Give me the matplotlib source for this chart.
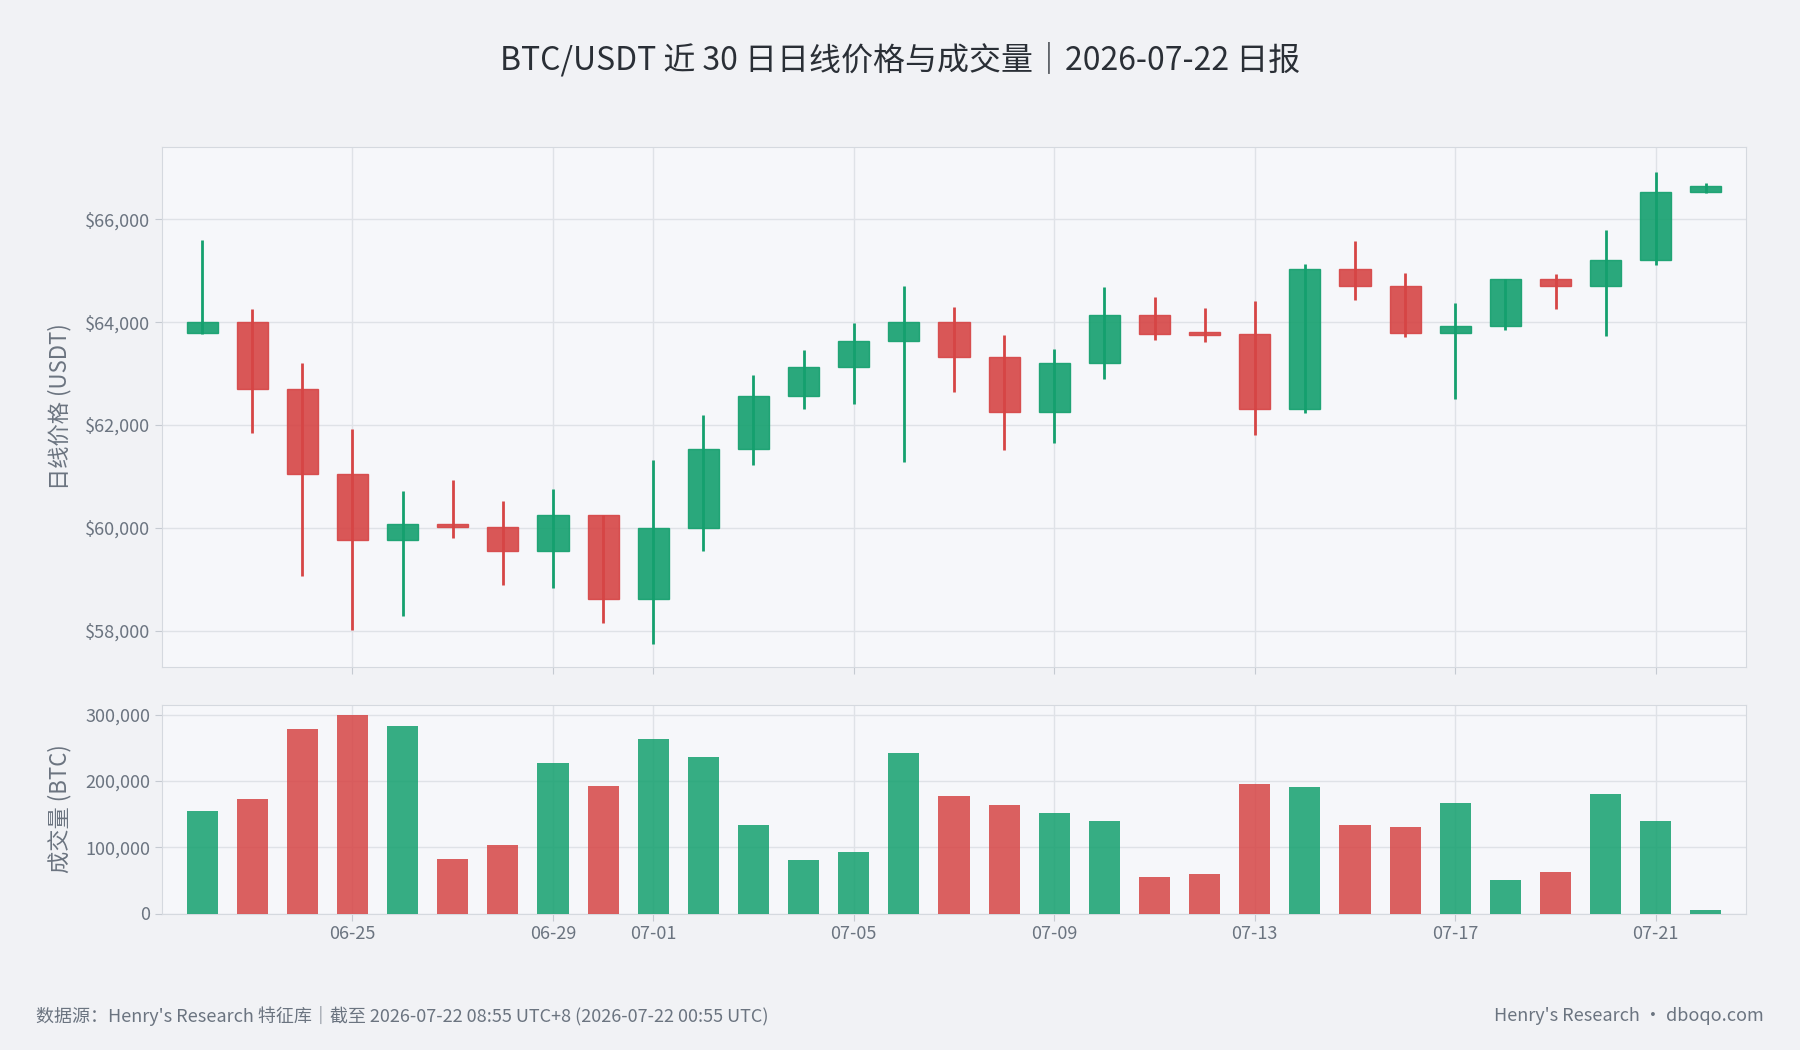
import matplotlib
matplotlib.use("Agg")
import matplotlib.pyplot as plt
import matplotlib.dates as mdates
import matplotlib.ticker as mt
import pandas as pd
import numpy as np

plt.rcParams['font.family'] = ['Noto Sans CJK SC', 'DejaVu Sans']

dates = pd.date_range("2026-06-22", "2026-07-22", freq="D")
opens  = [63780,64000,62700,61050,59770,60080,60010,59550,60240,58620,59990,61540,62560,63120,63630,64000,63320,62250,63210,64140,63800,63760,62300,65020,64690,63780,63920,64830,64700,65200,66530]
closes = [64000,62700,61050,59770,60080,60010,59550,60240,58620,59990,61540,62560,63120,63630,64000,63320,62250,63210,64140,63760,63740,62300,65020,64690,63780,63920,64830,64700,65200,66530,66640]
highs  = [65600,64250,63200,61920,60720,60920,60520,60750,60240,61320,62190,62960,63450,63980,64700,64290,63740,63470,64670,64490,64270,64400,65130,65580,64960,64360,64830,64940,65780,66910,66710]
lows   = [63760,61850,59060,58020,58280,59810,58880,58840,58150,57750,59550,61230,62300,62410,61280,62630,61520,61650,62900,63650,63610,61810,62230,64430,63700,62500,63850,64250,63720,65110,66510]
volumes = [155000,173000,278000,300000,282000,82000,104000,227000,192000,263000,236000,133000,80000,93000,242000,177000,163000,151000,139000,55000,60000,195000,190000,133000,130000,166000,50000,63000,180000,139000,5000]
tick_labels = ["06-25","06-29","07-01","07-05","07-09","07-13","07-17","07-21"]

GREEN = "#14a06e"
RED = "#d64545"
BG = "#f1f2f5"
AX = "#f6f7fa"
TXT = "#6b7480"

fig = plt.figure(figsize=(18, 10.5), dpi=100, facecolor=BG)
ax1 = fig.add_axes([0.090, 0.365, 0.880, 0.495], facecolor=AX)
ax2 = fig.add_axes([0.090, 0.130, 0.880, 0.199], facecolor=AX, sharex=ax1)

x = mdates.date2num(dates)
for xi, o, c, h, l, v in zip(x, opens, closes, highs, lows, volumes):
    col = GREEN if c >= o else RED
    ax1.vlines(xi, l, h, color=col, lw=2, zorder=3)
    ax1.bar(xi, max(abs(c - o), 60), bottom=min(o, c), width=0.62, color=col, alpha=0.9,
            edgecolor=col, lw=1, zorder=3)
    ax2.bar(xi, v, width=0.62, color=col, alpha=0.85, zorder=3)

for ax in (ax1, ax2):
    ax.grid(True, color="#dfe2e7", lw=1, zorder=0)
    for s in ax.spines.values():
        s.set_color("#d5d9df")
    ax.tick_params(colors=TXT, labelsize=13, length=5, color="#c5cad1")

ax1.set_ylim(57300, 67400)
ax1.yaxis.set_major_locator(mt.MultipleLocator(2000))
ax1.yaxis.set_major_formatter(mt.FuncFormatter(lambda v, p: f"${v:,.0f}"))
ax1.set_xlim(x[0] - 0.8, x[-1] + 0.8)
ticks = [mdates.date2num(pd.Timestamp("2026-" + t)) for t in tick_labels]
ax1.set_xticks(ticks)
ax1.set_xticklabels(tick_labels)
ax1.tick_params(axis="x", labelbottom=False)
ax2.set_ylim(0, 315000)
ax2.yaxis.set_major_locator(mt.MultipleLocator(100000))
ax2.yaxis.set_major_formatter(mt.FuncFormatter(lambda v, p: f"{v:,.0f}"))

ax1.set_ylabel("日线价格 (USDT)", color=TXT, fontsize=16, labelpad=10)
ax2.set_ylabel("成交量 (BTC)", color=TXT, fontsize=16, labelpad=10)

fig.text(0.5, 0.944, "BTC/USDT 近 30 日日线价格与成交量｜2026-07-22 日报", ha="center", va="center",
         fontsize=23, color="#2a2f36")
fig.text(0.020, 0.032, "数据源：Henry's Research 特征库｜截至 2026-07-22 08:55 UTC+8 (2026-07-22 00:55 UTC)",
         ha="left", va="center", fontsize=13, color=TXT)
fig.text(0.980, 0.032, "Henry's Research · dboqo.com", ha="right", va="center", fontsize=13, color=TXT)

fig.savefig("out.png", dpi=100, facecolor=BG)
